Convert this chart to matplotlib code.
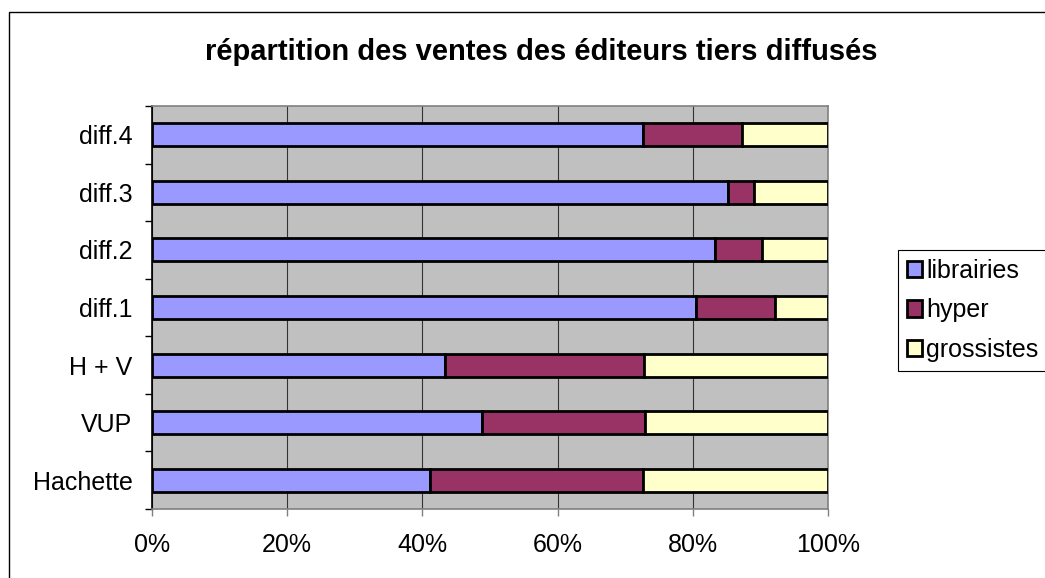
import numpy as np
import matplotlib.pyplot as plt
from matplotlib.patches import Rectangle

plt.rcParams['font.family'] = ['Liberation Sans', 'DejaVu Sans']

# data, bottom to top as drawn
categories = ['Hachette', 'VUP', 'H + V', 'diff.1', 'diff.2', 'diff.3', 'diff.4']
librairies = [41.1, 48.8, 43.3, 80.5, 83.3, 85.2, 72.6]
hyper = [31.5, 24.2, 29.5, 11.6, 6.9, 3.8, 14.7]
grossistes = [27.4, 27.0, 27.2, 7.9, 9.8, 11.0, 12.7]
series_names = ['librairies', 'hyper', 'grossistes']
colors = ['#9999FF', '#993366', '#FFFFCC']

W, H = 1045, 578
fig = plt.figure(figsize=(W / 100, H / 100), dpi=100)
fig.patches.append(Rectangle((9 / W, -0.1), 1.2, 1 - 12 / H + 0.1, transform=fig.transFigure,
                             fill=False, edgecolor='black', linewidth=1.0))

ax = fig.add_axes([152 / W, (H - 509) / H, 676 / W, 403 / H])
ax.set_facecolor('#C0C0C0')

y = np.arange(len(categories))
left = np.zeros(len(categories))
for vals, name, c in zip([librairies, hyper, grossistes], series_names, colors):
    ax.barh(y, vals, left=left, height=0.4, color=c, edgecolor='black', linewidth=2.0,
            label=name, zorder=3)
    left = left + np.array(vals)

ax.set_xlim(0, 100)
ax.set_ylim(-0.5, len(categories) - 0.5)
ax.set_xticks(np.arange(0, 101, 20))
ax.set_xticklabels([f'{v}%' for v in range(0, 101, 20)])
ax.xaxis.grid(True, color='#333333', linewidth=0.8, zorder=1)
ax.set_axisbelow(True)

ax.set_yticks(y)
ax.set_yticklabels(categories)
ax.set_yticks(np.arange(-0.5, len(categories)), minor=True)
ax.tick_params(axis='y', which='major', length=0, pad=14, labelsize=18)
ax.tick_params(axis='y', which='minor', length=5, width=1, color='black')
ax.tick_params(axis='x', length=5, width=1, color='#808080', pad=12, labelsize=18)

for s in ['top', 'right', 'bottom']:
    ax.spines[s].set_color('#808080')
    ax.spines[s].set_linewidth(1.2)
ax.spines['left'].set_color('black')
ax.spines['left'].set_linewidth(1.2)

fig.text(541 / W, 1 - 52 / H, 'répartition des ventes des éditeurs tiers diffusés',
         ha='center', va='center', fontsize=21, fontweight='bold')

leg = fig.legend(loc='upper left', bbox_to_anchor=(898 / W, 1 - 250 / H), fontsize=18,
                 fancybox=False, shadow=False, framealpha=1, edgecolor='black',
                 handlelength=0.62, handleheight=0.62, handletextpad=0.15,
                 labelspacing=0.62, borderpad=0.35, borderaxespad=0)
leg.get_frame().set_linewidth(0.8)
for p in leg.get_patches():
    p.set_linewidth(2.0)

fig.savefig('out.png', dpi=100)
